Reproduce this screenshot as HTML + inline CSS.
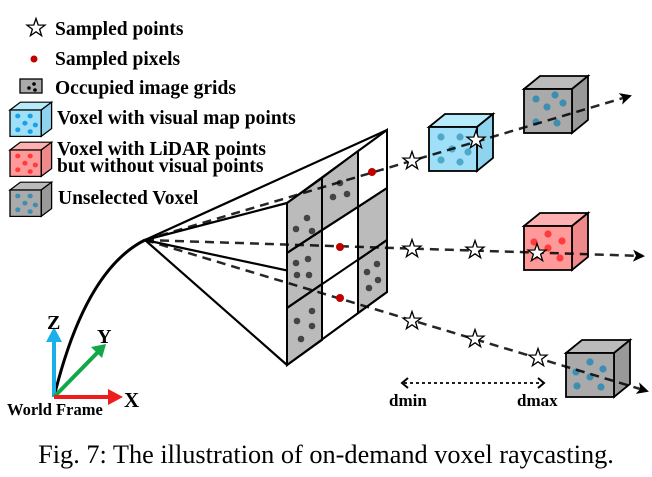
<!DOCTYPE html>
<html><head><meta charset="utf-8"><style>
html,body{margin:0;padding:0;background:#fff;}
svg{display:block;}
.t{font-family:"Liberation Serif",serif;font-weight:bold;font-size:19.5px;fill:#000;}
</style></head><body>
<svg width="652" height="477" viewBox="0 0 652 477" xmlns="http://www.w3.org/2000/svg">
<defs>
<polygon id="star" points="0,-9.5 2.2,-3 9,-2.9 3.6,1.2 5.6,7.7 0,3.8 -5.6,7.7 -3.6,1.2 -9,-2.9 -2.2,-3" fill="#fff" stroke="#000" stroke-width="1.3"/>
<marker id="ah" markerWidth="12" markerHeight="12" refX="10" refY="6" orient="auto" markerUnits="userSpaceOnUse"><path d="M0,0 L12,6 L0,12 L3,6 Z" fill="#000"/></marker>
</defs>

<use href="#star" x="36" y="28"/>
<text class="t" x="55" y="35">Sampled points</text>
<circle cx="34" cy="59" r="3.5" fill="#c00000"/>
<text class="t" x="55" y="65">Sampled pixels</text>
<rect x="20" y="79" width="22" height="14" fill="#aaa" stroke="#000" stroke-width="1.3"/>
<circle cx="29" cy="88" r="1.8" fill="#000"/><circle cx="34" cy="84" r="1.8" fill="#000"/><circle cx="35" cy="90" r="1.8" fill="#000"/>
<text class="t" x="55" y="94">Occupied image grids</text>

<g transform="translate(10,110) scale(0.65,0.6)" stroke="#000" stroke-width="2">
<polygon points="0,0 16,-13 64,-13 48,0" fill="#b8ecfb"/><polygon points="48,0 64,-13 64,31 48,44" fill="#8fd4ef"/><rect width="48" height="44" fill="#9fe0f8"/>
<g fill="#1aa0e6" stroke="none"><circle cx="12" cy="10" r="4"/><circle cx="31" cy="10" r="4"/><circle cx="23" cy="22" r="4"/><circle cx="39" cy="25" r="4"/><circle cx="12" cy="33" r="4"/><circle cx="31" cy="36" r="4"/></g></g>
<text class="t" x="57" y="124">Voxel with visual map points</text>
<g transform="translate(10,150) scale(0.65,0.6)" stroke="#000" stroke-width="2">
<polygon points="0,0 16,-13 64,-13 48,0" fill="#ffb0b0"/><polygon points="48,0 64,-13 64,31 48,44" fill="#f08a8a"/><rect width="48" height="44" fill="#ff9a9a"/>
<g fill="#ff3b3b" stroke="none"><circle cx="12" cy="10" r="4"/><circle cx="31" cy="10" r="4"/><circle cx="23" cy="22" r="4"/><circle cx="39" cy="25" r="4"/><circle cx="12" cy="33" r="4"/><circle cx="31" cy="36" r="4"/></g></g>
<text class="t" x="57" y="155">Voxel with LiDAR points</text>
<text class="t" x="57" y="172">but without visual points</text>
<g transform="translate(10,190) scale(0.65,0.6)" stroke="#000" stroke-width="2">
<polygon points="0,0 16,-13 64,-13 48,0" fill="#bbb"/><polygon points="48,0 64,-13 64,31 48,44" fill="#999"/><rect width="48" height="44" fill="#aaa"/>
<g fill="#3d8eb0" stroke="none"><circle cx="12" cy="10" r="4"/><circle cx="31" cy="10" r="4"/><circle cx="23" cy="22" r="4"/><circle cx="39" cy="25" r="4"/><circle cx="12" cy="33" r="4"/><circle cx="31" cy="36" r="4"/></g></g>
<text class="t" x="58" y="204">Unselected Voxel</text>

<path d="M54,397 Q85,270 145,240" fill="none" stroke="#000" stroke-width="3"/>

<line x1="54" y1="397" x2="54" y2="340" stroke="#1ab0ea" stroke-width="4"/>
<polygon points="46,342 54,327 62,342" fill="#1ab0ea"/>
<line x1="54" y1="397" x2="98" y2="352" stroke="#12a84a" stroke-width="4"/>
<polygon points="91,347 106,344 102,358" fill="#12a84a"/>
<line x1="54" y1="397" x2="110" y2="397" stroke="#ee1c1c" stroke-width="4"/>
<polygon points="108,389 123,397 108,405" fill="#ee1c1c"/>
<text class="t" x="47" y="329" style="font-size:20px">Z</text>
<text class="t" x="97" y="343" style="font-size:20px">Y</text>
<text class="t" x="124" y="407" style="font-size:21px">X</text>
<text class="t" x="7" y="415" style="font-size:16.5px">World Frame</text>

<g stroke="#000" stroke-width="2.2" fill="none">
<line x1="145" y1="240" x2="387" y2="130"/>
<line x1="145" y1="240" x2="287" y2="203"/>
<line x1="145" y1="240" x2="387" y2="292"/>
<line x1="145" y1="240" x2="287" y2="365"/>
</g>

<g stroke="#000" stroke-width="2">
<polygon points="287,203 387,130 387,292 287,365" fill="#fff"/>
<polygon points="287,203 322,178 322,230 287,253" fill="#bbb"/>
<polygon points="287,253 322,230 322,284 287,308" fill="#bbb"/>
<polygon points="287,308 322,284 322,340 287,365" fill="#bbb"/>
<polygon points="322,178 358,151 358,207 322,230" fill="#bbb"/>
<polygon points="358,207 387,188 387,240 358,260" fill="#bbb"/>
<polygon points="358,260 387,240 387,292 358,313" fill="#bbb"/>
<polygon points="287,203 387,130 387,292 287,365" fill="none"/>
<line x1="322" y1="178" x2="322" y2="340"/>
<line x1="358" y1="151" x2="358" y2="313"/>
<line x1="287" y1="253" x2="387" y2="188"/>
<line x1="287" y1="308" x2="387" y2="240"/>
</g>
<g fill="#444">
<circle cx="307" cy="218" r="3.3"/><circle cx="296" cy="229" r="3.3"/><circle cx="312" cy="231" r="3.3"/>
<circle cx="296" cy="263" r="3.3"/><circle cx="308" cy="259" r="3.3"/><circle cx="297" cy="275" r="3.3"/><circle cx="309" cy="275" r="3.3"/>
<circle cx="312" cy="311" r="3.3"/><circle cx="297" cy="321" r="3.3"/><circle cx="312" cy="326" r="3.3"/><circle cx="301" cy="339" r="3.3"/>
<circle cx="340" cy="183" r="3.3"/><circle cx="333" cy="197" r="3.3"/><circle cx="347" cy="194" r="3.3"/>
<circle cx="377" cy="264" r="3.3"/><circle cx="367" cy="272" r="3.3"/><circle cx="378" cy="280" r="3.3"/><circle cx="369" cy="288" r="3.3"/>
</g>

<g transform="translate(429,127)" stroke="#000" stroke-width="1.8">
<polygon points="0,0 16,-13 64,-13 48,0" fill="#b8ecfb"/><polygon points="48,0 64,-13 64,31 48,44" fill="#8fd4ef"/><rect width="48" height="44" fill="#9fe0f8"/>
<g fill="#4fa9c6" stroke="none"><circle cx="12" cy="10" r="3.6"/><circle cx="31" cy="10" r="3.6"/><circle cx="23" cy="22" r="3.6"/><circle cx="39" cy="25" r="3.6"/><circle cx="12" cy="33" r="3.6"/><circle cx="31" cy="35" r="3.6"/></g></g>
<g transform="translate(524,89)" stroke="#000" stroke-width="1.8">
<polygon points="0,0 16,-13 64,-13 48,0" fill="#bbb"/><polygon points="48,0 64,-13 64,31 48,44" fill="#999"/><rect width="48" height="44" fill="#aaa"/>
<g fill="#3d8eb0" stroke="none"><circle cx="12" cy="10" r="3.6"/><circle cx="31" cy="6" r="3.6"/><circle cx="23" cy="18" r="3.6"/><circle cx="39" cy="14" r="3.6"/><circle cx="12" cy="33" r="3.6"/><circle cx="33" cy="34" r="3.6"/></g></g>
<g transform="translate(524,226)" stroke="#000" stroke-width="1.8">
<polygon points="0,0 16,-13 64,-13 48,0" fill="#ffb0b0"/><polygon points="48,0 64,-13 64,31 48,44" fill="#f08a8a"/><rect width="48" height="44" fill="#ff9a9a"/>
<g fill="#ff3b3b" stroke="none"><circle cx="24" cy="8" r="3.6"/><circle cx="10" cy="16" r="3.6"/><circle cx="38" cy="15" r="3.6"/><circle cx="24" cy="22" r="3.6"/><circle cx="12" cy="30" r="3.6"/><circle cx="36" cy="32" r="3.6"/></g></g>
<g transform="translate(566,353)" stroke="#000" stroke-width="1.8">
<polygon points="0,0 16,-13 64,-13 48,0" fill="#bbb"/><polygon points="48,0 64,-13 64,31 48,44" fill="#999"/><rect width="48" height="44" fill="#aaa"/>
<g fill="#3d8eb0" stroke="none"><circle cx="24" cy="9" r="3.6"/><circle cx="10" cy="19" r="3.6"/><circle cx="37" cy="16" r="3.6"/><circle cx="24" cy="24" r="3.6"/><circle cx="11" cy="33" r="3.6"/><circle cx="35" cy="34" r="3.6"/></g></g>

<g stroke="#000" stroke-width="2.5" stroke-dasharray="9,6" fill="none" marker-end="url(#ah)" stroke-opacity="0.85">
<line x1="145" y1="240" x2="630" y2="96"/>
<line x1="145" y1="240" x2="643" y2="256"/>
<line x1="145" y1="240" x2="647" y2="391"/>
</g>
<g fill="#c00000">
<circle cx="372" cy="172" r="4"/><circle cx="340" cy="247" r="4"/><circle cx="340" cy="298" r="4"/>
</g>

<use href="#star" x="412" y="161"/><use href="#star" x="476" y="140"/>
<use href="#star" x="412" y="249"/><use href="#star" x="475" y="250"/><use href="#star" x="537" y="253"/>
<use href="#star" x="412" y="321"/><use href="#star" x="475" y="339"/><use href="#star" x="538" y="358"/>

<line x1="404" y1="383" x2="542" y2="383" stroke="#000" stroke-width="1.8" stroke-dasharray="3,3"/>
<path d="M408,378 L402,383 L408,388" fill="none" stroke="#000" stroke-width="2"/>
<path d="M538,378 L544,383 L538,388" fill="none" stroke="#000" stroke-width="2"/>
<text class="t" x="389" y="406" style="font-size:17px">dmin</text>
<text class="t" x="517" y="406" style="font-size:17px">dmax</text>

<text x="326" y="463" text-anchor="middle" font-family="Liberation Serif, serif" font-size="26.3">Fig. 7: The illustration of on-demand voxel raycasting.</text>
</svg>
</body></html>
